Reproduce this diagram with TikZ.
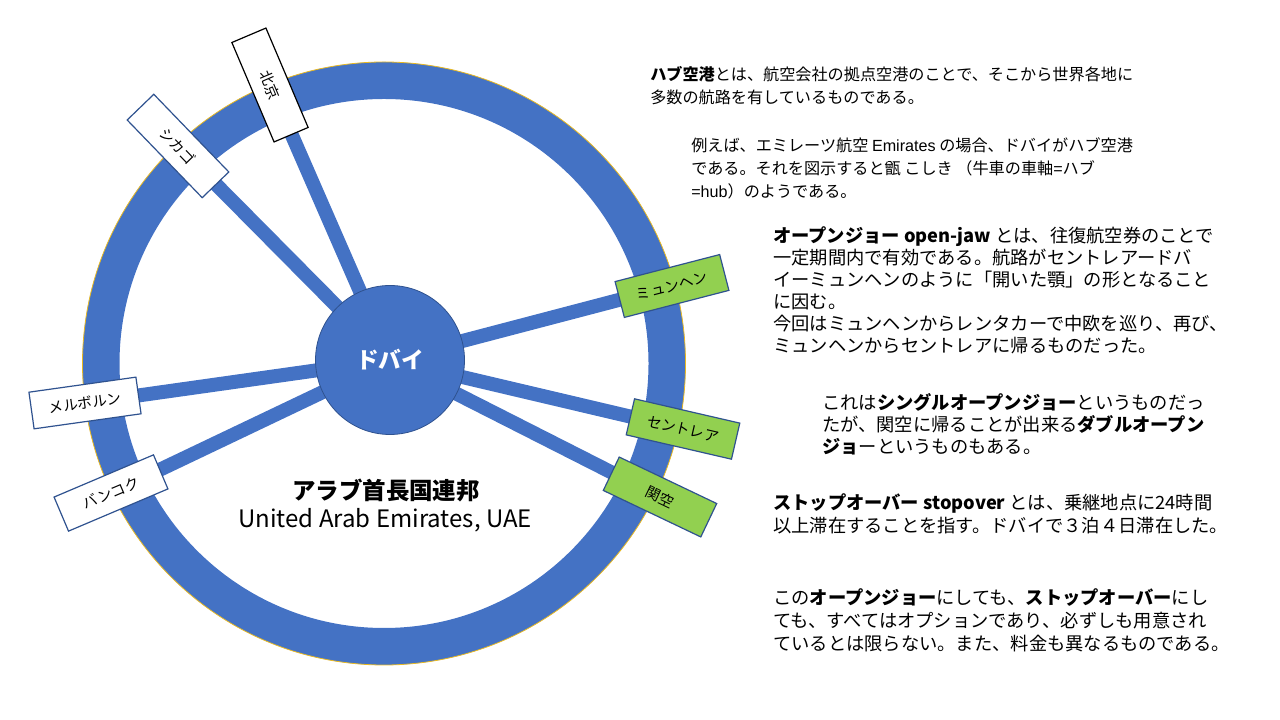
\documentclass[tikz,border=0pt]{standalone}
\usepackage{fontspec}
\setmainfont{Noto Sans CJK JP}
\newfontfamily\arialfont{Liberation Sans}
\usepackage{tikz}
\usetikzlibrary{positioning}
\pgfdeclarelayer{bg}
\pgfsetlayers{bg,main}

\begin{document}
\begin{tikzpicture}[x=0.75pt,y=0.75pt,
  spoke/.style={line width=10.5pt,draw=wheelblue},
  citybox/.style={draw=#1,line width=0.9pt,minimum width=81pt,minimum height=27.75pt,inner sep=0pt,font=\fontsize{11}{12}\selectfont},
  hubnode/.style={circle,fill=wheelblue,draw=hubedge,line width=0.6pt,minimum size=111.75pt,inner sep=0pt,text=white,font=\fontsize{17}{20}\selectfont\bfseries},
  smalltext/.style={align=left,inner sep=0pt,anchor=north west,font=\fontsize{12.1}{17.25}\selectfont},
  bigtext/.style={align=left,inner sep=0pt,anchor=north west,font=\fontsize{13.7}{#1}\selectfont},
  bigtext/.default=16.5]
\definecolor{wheelblue}{HTML}{4472C4}
\definecolor{hubedge}{HTML}{2F528F}
\definecolor{ringgold}{HTML}{E8B923}
\definecolor{citygreen}{HTML}{92D050}

\useasboundingbox (0,0) rectangle (1280,720);

% Wheel rim
\begin{pgfonlayer}{bg}
\draw[wheelblue,line width=27.75pt] (384,356.5) circle (283);
\draw[ringgold,line width=0.6pt] (384,356.5) circle (301.5);
\end{pgfonlayer}

\node[hubnode] (hub) at (390,360) {ドバイ};

% Cities on the spokes
\foreach \name/\x/\y/\rot/\txt/\fillc/\edge in {
  pek/270/635/-67/北京/white/black,
  chi/178/574/-46/シカゴ/white/hubedge,
  mel/85/317/8/メルボルン/white/hubedge,
  bkk/111/227/23/バンコク/white/hubedge,
  muc/672/434/14.5/ミュンヘン/citygreen/hubedge,
  ngo/683/291/-13/セントレア/citygreen/hubedge,
  kix/660/223/-25.5/関空/citygreen/hubedge} {
  \node[citybox=\edge,fill=\fillc,rotate=\rot] (\name) at (\x,\y) {\txt};
  \begin{pgfonlayer}{bg}
  \draw[spoke] (hub.center) -- (\name.center);
  \end{pgfonlayer}
}

\node[font=\fontsize{17.6}{20}\selectfont\bfseries] (uaejp) at (386,230) {アラブ首長国連邦};
\node[font=\fontsize{18}{20}\selectfont] (uaeen) at (385,200) {United Arab Emirates, UAE};

% Text on the right
\node[smalltext] (hubtext) at (650,654) {\textbf{ハブ空港}とは、航空会社の拠点空港のことで、そこから世界各地に\\多数の航路を有しているものである。};
\node[smalltext] (exampletext) at (691,583) {例えば、エミレーツ航空 {\arialfont Emirates} の場合、ドバイがハブ空港\\である。それを図示すると甑 こしき （牛車の車軸{\arialfont =}ハブ\\{\arialfont =hub}）のようである。};
\node[bigtext] (openjawtext) at (773,494) {\textbf{オープンジョー open-jaw} とは、往復航空券のことで\\一定期間内で有効である。航路がセントレアードバ\\イーミュンヘンのように「開いた顎」の形となること\\に因む。\\今回はミュンヘンからレンタカーで中欧を巡り、再び、\\ミュンヘンからセントレアに帰るものだった。};
\node[bigtext] (doubletext) at (822,327) {これは\textbf{シングルオープンジョー}というものだっ\\たが、関空に帰ることが出来る\textbf{ダブルオープン}\\\textbf{ジョ}ーというものもある。};
\node[bigtext=17.25] (stopovertext) at (773,227) {\textbf{ストップオーバー stopover} とは、乗継地点に24時間\\以上滞在することを指す。ドバイで３泊４日滞在した。};
\node[bigtext=17.25] (optiontext) at (773,132) {この\textbf{オープンジョー}にしても、\textbf{ストップオーバー}にし\\ても、すべてはオプションであり、必ずしも用意され\\ているとは限らない。また、料金も異なるものである。};
\end{tikzpicture}
\end{document}
